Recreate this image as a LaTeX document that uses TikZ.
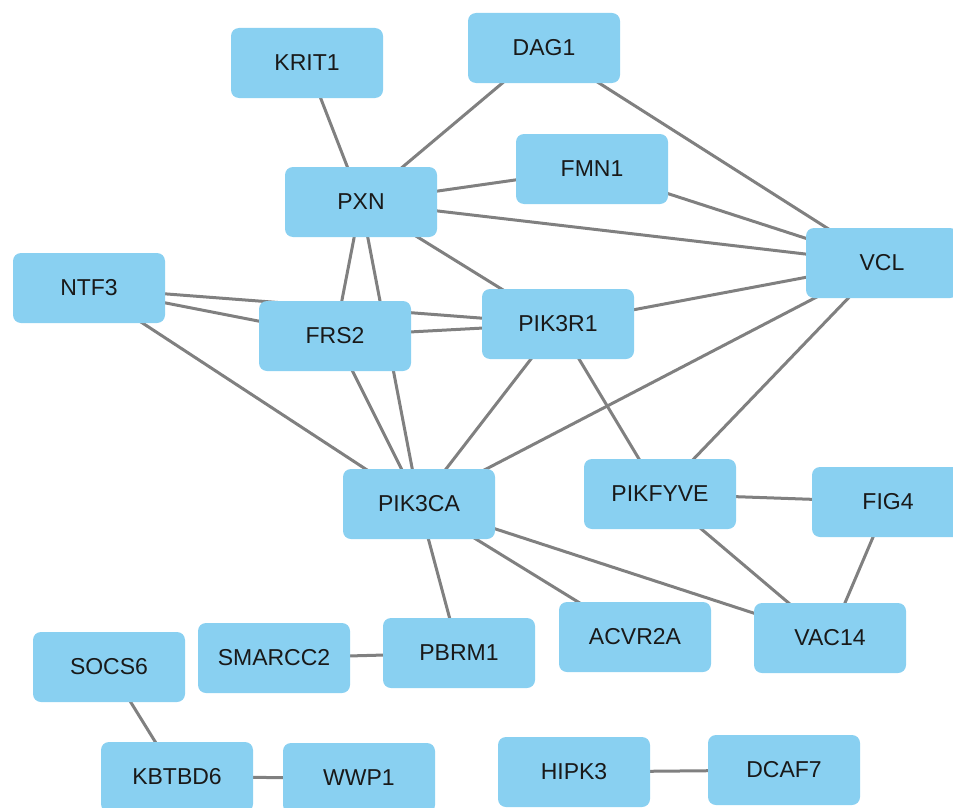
\documentclass[tikz,border=0pt]{standalone}
\usepackage{fontspec}
\setmainfont{Liberation Sans}
\usetikzlibrary{backgrounds}
\definecolor{nodeblue}{RGB}{137,208,241}
\definecolor{edgegray}{RGB}{128,128,128}
\tikzset{
  gene/.style={fill=nodeblue, draw=none, rounded corners=8pt, minimum width=152pt, minimum height=70pt, inner sep=0pt, font=\fontsize{23}{26}\selectfont, text=black!90},
  link/.style={draw=edgegray, line width=3pt}
}
\begin{document}
\begin{tikzpicture}[x=1pt,y=-1pt]
\useasboundingbox (0,0) rectangle (953,808);
\clip (0,0) rectangle (953,808);
\node[gene] (KRIT1) at (307,63) {KRIT1};
\node[gene] (DAG1) at (544,48) {DAG1};
\node[gene] (FMN1) at (592,169) {FMN1};
\node[gene] (PXN) at (361,202) {PXN};
\node[gene] (VCL) at (882,263) {VCL};
\node[gene] (NTF3) at (89,288) {NTF3};
\node[gene] (FRS2) at (335,336) {FRS2};
\node[gene] (PIK3R1) at (558,324) {PIK3R1};
\node[gene] (PIK3CA) at (419,504) {PIK3CA};
\node[gene] (PIKFYVE) at (660,494) {PIKFYVE};
\node[gene] (FIG4) at (888,502) {FIG4};
\node[gene] (SOCS6) at (109,667) {SOCS6};
\node[gene] (SMARCC2) at (274,658) {SMARCC2};
\node[gene] (PBRM1) at (459,653) {PBRM1};
\node[gene] (ACVR2A) at (635,637) {ACVR2A};
\node[gene] (VAC14) at (830,638) {VAC14};
\node[gene] (KBTBD6) at (177,777) {KBTBD6};
\node[gene] (WWP1) at (359,778) {WWP1};
\node[gene] (HIPK3) at (574,772) {HIPK3};
\node[gene] (DCAF7) at (784,770) {DCAF7};
\begin{scope}[on background layer]
\foreach \a/\b in {KRIT1/PXN, DAG1/PXN, DAG1/VCL, FMN1/PXN, FMN1/VCL, PXN/VCL, PXN/PIK3R1, PXN/FRS2, PXN/PIK3CA,
  NTF3/FRS2, NTF3/PIK3R1, NTF3/PIK3CA, FRS2/PIK3R1, FRS2/PIK3CA, PIK3R1/PIK3CA, PIK3R1/VCL, PIK3R1/PIKFYVE,
  VCL/PIK3CA, VCL/PIKFYVE, PIKFYVE/FIG4, PIKFYVE/VAC14, FIG4/VAC14, PIK3CA/PBRM1, PIK3CA/ACVR2A, PIK3CA/VAC14,
  SMARCC2/PBRM1, SOCS6/KBTBD6, KBTBD6/WWP1, HIPK3/DCAF7}
  \draw[link] (\a.center) -- (\b.center);
\end{scope}
\end{tikzpicture}
\end{document}
